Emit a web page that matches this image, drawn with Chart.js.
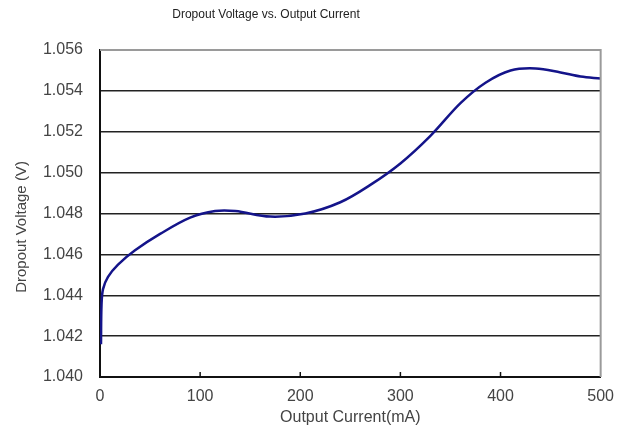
<!DOCTYPE html>
<html>
<head>
<meta charset="utf-8">
<script src="https://cdn.jsdelivr.net/npm/chart.js@4"></script>
<style>
  html, body { margin: 0; padding: 0; background: #fff; }
  #wrap { width: 624px; height: 443px; }
</style>
</head>
<body>
<div id="wrap"><canvas id="myChart" width="624" height="443"></canvas></div>
<script>
// values
const currentMA = [1, 1.5, 3, 8, 18, 35, 60, 90, 115, 135, 170, 205, 240, 270, 300, 330, 360, 385, 410, 435, 460, 480, 500];
const dropoutV = [1.0416, 1.0435, 1.0443, 1.0449, 1.0455, 1.0462, 1.0470, 1.0478, 1.04812, 1.04812, 1.04785, 1.0480, 1.04855, 1.0494, 1.05045, 1.0518, 1.0534, 1.0544, 1.0550, 1.0551, 1.0549, 1.0547, 1.0546];
const xTicks = [0, 100, 200, 300, 400, 500];
const yTicks = [1.040, 1.042, 1.044, 1.046, 1.048, 1.050, 1.052, 1.054, 1.056];

const chartTitle = "Dropout Voltage vs. Output Current";
const yTitle = "Dropout Voltage (V)";
const xTitle = "Output Current(mA)";

const font = "'Liberation Sans', Arial, sans-serif";

// frame, inner ticks and the two titles drawn outside the axes
const extras = {
  id: 'extras',
  afterDraw(chart) {
    const ctx = chart.ctx;
    const a = chart.chartArea;
    const xs = chart.scales.x;
    ctx.save();
    // gray top and right border
    ctx.strokeStyle = '#9a9a9a';
    ctx.lineWidth = 2;
    ctx.beginPath();
    ctx.moveTo(a.left, a.top);
    ctx.lineTo(a.right, a.top);
    ctx.lineTo(a.right, a.bottom);
    ctx.stroke();
    // small tick marks pointing up from the bottom axis
    ctx.strokeStyle = '#111';
    ctx.lineWidth = 1.5;
    xTicks.slice(1, -1).forEach(v => {
      const px = xs.getPixelForValue(v);
      ctx.beginPath();
      ctx.moveTo(px, a.bottom);
      ctx.lineTo(px, a.bottom - 5);
      ctx.stroke();
    });
    ctx.fillStyle = '#222';
    ctx.textAlign = 'center';
    ctx.textBaseline = 'middle';
    ctx.font = "12px " + font;
    ctx.fillText(chartTitle, 266, 15);
    ctx.translate(22, 227);
    ctx.rotate(-Math.PI / 2);
    ctx.fillStyle = '#444';
    ctx.font = "15px " + font;
    ctx.fillText(yTitle, 0, 0);
    ctx.restore();
  }
};

new Chart(document.getElementById('myChart'), {
  type: 'line',
  data: {
    datasets: [{
      data: currentMA.map((x, i) => ({ x: x, y: dropoutV[i] })),
      borderColor: '#14148a',
      borderWidth: 2.5,
      pointRadius: 0,
      tension: 0.35,
      fill: false
    }]
  },
  options: {
    responsive: false,
    animation: false,
    layout: { padding: { top: 50, right: 16, left: 0, bottom: 16 } },
    plugins: {
      legend: { display: false },
      title: { display: false },
      tooltip: { enabled: false }
    },
    scales: {
      x: {
        type: 'linear',
        min: 0,
        max: 500,
        afterBuildTicks: s => { s.ticks = xTicks.map(v => ({ value: v })); },
        afterFit: s => { s.height = 50; },
        grid: { display: false, drawTicks: false },
        border: { display: true, color: '#111', width: 2 },
        ticks: { padding: 10, color: '#444', font: { family: font, size: 16 }, maxRotation: 0 },
        title: { display: true, text: xTitle, color: '#444', font: { family: font, size: 16 }, padding: { top: 2, bottom: 0 } }
      },
      y: {
        min: 1.040,
        max: 1.056,
        afterBuildTicks: s => { s.ticks = yTicks.map(v => ({ value: v })); },
        afterFit: s => { s.width = 100; },
        grid: { color: '#222', lineWidth: 1.5, drawTicks: false },
        border: { display: true, color: '#111', width: 2 },
        ticks: {
          padding: 17,
          color: '#444',
          font: { family: font, size: 16 },
          callback: v => v.toFixed(3)
        }
      }
    }
  },
  plugins: [extras]
});
</script>
</body>
</html>
